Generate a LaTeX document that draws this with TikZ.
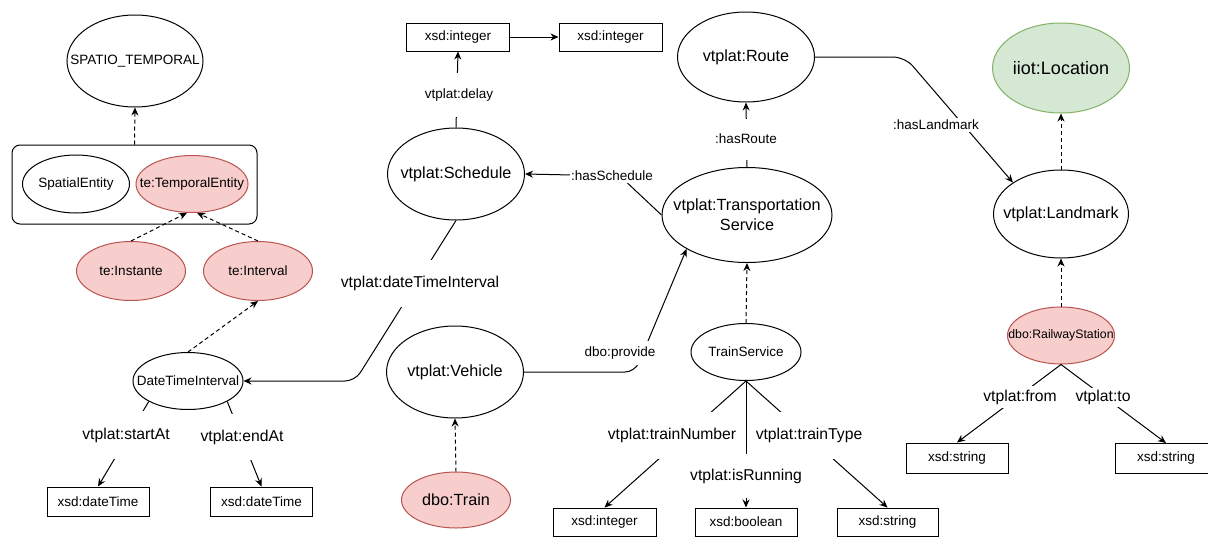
\documentclass[tikz,border=0pt]{standalone}
\usepackage{fontspec}
\setmainfont{Liberation Sans}
\usetikzlibrary{shapes.geometric,arrows.meta}
\definecolor{pinkf}{HTML}{F8CECC}
\definecolor{pinkd}{HTML}{B85450}
\definecolor{greenf}{HTML}{D5E8D4}
\definecolor{greend}{HTML}{82B366}
\newcommand\myfs{\fontsize{13.5}{15}\selectfont}
\newcommand\myfm{\fontsize{15.7}{18.5}\selectfont}
\newcommand\myfl{\fontsize{16.2}{20}\selectfont}
\newcommand\myfx{\fontsize{18}{21}\selectfont}
\newcommand\myft{\fontsize{12.3}{14}\selectfont}
\newcommand\zt[1]{\makebox[0pt]{#1}}
\begin{document}
\begin{tikzpicture}[x=1pt,y=-1pt,
  ell/.style={ellipse, draw, line width=1pt, inner sep=0pt, font=\myfs},
  pk/.style={ell, fill=pinkf, draw=pinkd},
  gr/.style={ell, fill=greenf, draw=greend},
  dbox/.style={rectangle, draw, line width=1pt, inner sep=0pt, minimum width=102pt, minimum height=28pt, font=\myfs},
  grp/.style={rectangle, draw, line width=1pt, rounded corners=8pt},
  elbl/.style={fill=white, inner xsep=1pt, inner ysep=0pt, font=\myfm},
  slbl/.style={fill=white, inner xsep=1pt, inner ysep=2pt, font=\myfs},
  ln/.style={line width=1pt},
  arr/.style={ln, -{Stealth[length=8pt,width=7pt]}},
  darr/.style={arr, dash pattern=on 4pt off 3pt},
]
\useasboundingbox (0,0) rectangle (1208,536);
\fill[white] (0,0) rectangle (1208,536);
\clip (0,0) rectangle (1208,536);

% nodes
\node[ell, minimum width=136pt, minimum height=92pt] (st) at (135,61) {\zt{SPATIO\_TEMPORAL}};
\node[grp, minimum width=245pt, minimum height=79pt] (grp) at (134.5,184.5) {};
\node[ell, minimum width=107pt, minimum height=58pt] (se) at (76,184) {\zt{SpatialEntity}};
\node[pk, minimum width=112pt, minimum height=57pt] (tempe) at (192,184) {\zt{te:TemporalEntity}};
\node[pk, minimum width=109pt, minimum height=59pt] (inst) at (131,271) {\zt{te:Instante}};
\node[pk, minimum width=109pt, minimum height=59pt] (intv) at (258,271) {\zt{te:Interval}};
\node[ell, minimum width=110pt, minimum height=57pt] (dti) at (188,381) {\zt{DateTimeInterval}};
\node[dbox, minimum height=29pt] (dt1) at (98,501.5) {xsd:dateTime};
\node[dbox, minimum height=29pt] (dt2) at (261.5,501.5) {xsd:dateTime};
\node[dbox, minimum width=103pt] (int1) at (458,37) {xsd:integer};
\node[dbox, minimum width=103pt] (int2) at (610.5,37) {xsd:integer};
\node[ell, font=\myfl, minimum width=137pt, minimum height=92pt] (sched) at (456,174) {\zt{vtplat:Schedule}};
\node[ell, font=\myfl, minimum width=137pt, minimum height=90pt] (route) at (746,57) {\zt{vtplat:Route}};
\node[ell, font=\myfl, minimum width=170pt, minimum height=95pt, align=center] (ts) at (747,215) {\zt{vtplat:Transportation}\\\zt{Service}};
\node[ell, font=\myfl, minimum width=137pt, minimum height=92pt] (veh) at (455,372) {\zt{vtplat:Vehicle}};
\node[pk, font=\myfl, minimum width=109pt, minimum height=56pt] (train) at (456,500) {\zt{dbo:Train}};
\node[ell, minimum width=110pt, minimum height=57pt] (tsv) at (746,352) {\zt{TrainService}};
\node[dbox, minimum width=103pt] (int3) at (604.5,522) {xsd:integer};
\node[dbox] (bool) at (746,522) {xsd:boolean};
\node[dbox, minimum width=101pt] (str3) at (887.5,522) {xsd:string};
\node[gr, font=\myfx, minimum width=137pt, minimum height=90pt] (loc) at (1061,68) {\zt{iiot:Location}};
\node[ell, font=\myfl, minimum width=135pt, minimum height=88pt] (lm) at (1061,214) {\zt{vtplat:Landmark}};
\node[pk, font=\myft, minimum width=107pt, minimum height=57pt] (rs) at (1061,335.5) {\zt{dbo:RailwayStation}};
\node[dbox, minimum height=30pt] (str1) at (957,458) {xsd:string};
\node[dbox, minimum height=30pt] (str2) at (1166,458.5) {xsd:string};

% connectors
\draw[darr] (grp.north) -- (st.south);
\draw[darr] (inst.north) -- (tempe.260);
\draw[darr] (intv.north) -- (tempe.280);
\draw[darr] (dti.north) -- (intv.south);
\coordinate (c1) at (355,381);
\draw[arr, rounded corners=10pt] (sched.south) -- (c1) -- (dti.east);
\draw[arr] (sched.north) -- (int1.south);
\draw[arr] (int1.east) -- (int2.west);
\coordinate (c2) at (620,176);
\draw[arr] (ts.west) -- (c2) -- (sched.east);
\draw[arr] (ts.north) -- (route.south);
\coordinate (c3) at (905,57);
\draw[arr, rounded corners=12pt] (route.east) -- (c3) -- (lm.north west);
\draw[darr] (lm.north) -- (loc.south);
\draw[darr] (rs.north) -- (lm.south);
\draw[arr] (rs.south) -- (str1.north);
\draw[arr] (rs.south) -- (str2.north);
\coordinate (c4) at (635,372);
\draw[arr, rounded corners=10pt] (veh.east) -- (c4) -- (ts.south west);
\draw[darr] (train.north) -- (veh.south);
\draw[darr] (tsv.north) -- (ts.south);
\draw[arr] (tsv.south) -- (int3.north);
\draw[arr] (tsv.south) -- (bool.north);
\draw[arr] (tsv.south) -- (str3.north);
\draw[arr] (dti.south west) -- (dt1.north);
\draw[arr] (dti.south east) -- (dt2.north);

% edge labels
\node[elbl, minimum height=47pt] (l1) at (420,283) {vtplat:dateTimeInterval};
\node[slbl, minimum height=44pt] (l2) at (459,95) {vtplat:delay};
\node[slbl] (l3) at (612,176) {:hasSchedule};
\node[slbl, minimum height=41pt] (l4) at (746,139) {:hasRoute};
\node[slbl] (l5) at (936,125) {:hasLandmark};
\node[elbl, minimum height=22pt] (l6) at (1020,397) {vtplat:from};
\node[elbl, minimum height=19pt] (l7) at (1103,397) {vtplat:to};
\node[slbl, minimum height=24pt] (l8) at (620,353) {dbo:provide};
\node[elbl, minimum height=47pt] (l9) at (672,435) {vtplat:trainNumber};
\node[elbl, minimum height=44pt] (l10) at (746,476) {vtplat:isRunning};
\node[elbl, minimum height=47pt] (l11) at (809,435) {vtplat:trainType};
\node[elbl, minimum height=48pt] (l12) at (126,435) {vtplat:startAt};
\node[elbl, minimum height=46pt] (l13) at (242,437) {vtplat:endAt};
\end{tikzpicture}
\end{document}
